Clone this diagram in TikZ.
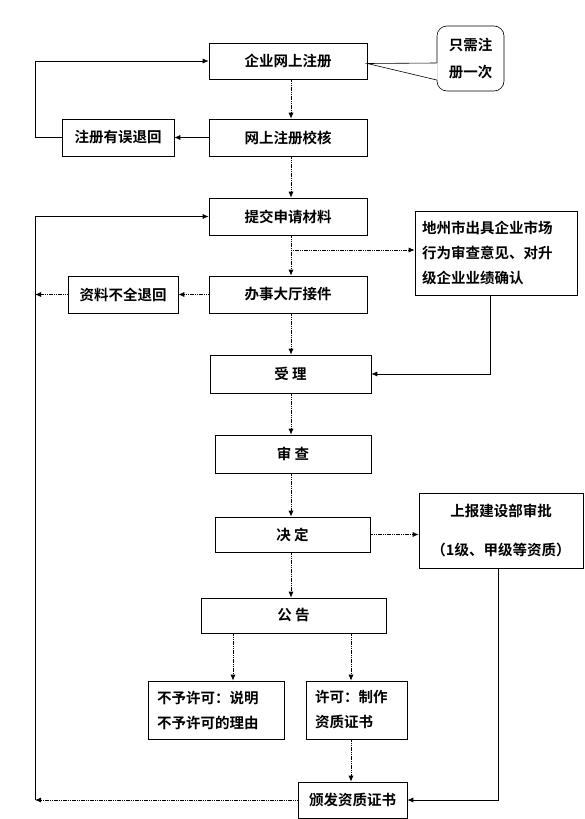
\documentclass[tikz,border=0pt]{standalone}
\usepackage{fontspec}
\newfontfamily\cjk{Noto Sans CJK SC}[BoldFont={Noto Sans CJK SC Bold}]
\usetikzlibrary{arrows.meta}
\begin{document}
\begin{tikzpicture}[x=1pt,y=-1pt,
  box/.style={draw, line width=0.6pt, inner sep=0pt, fill=white,
    font=\cjk\bfseries\fontsize{14.5}{25}\selectfont},
  arr/.style={-{Latex[length=6pt,width=5pt]}, line width=0.7pt},
  dot/.style={dash pattern=on 1.2pt off 0.6pt, line width=0.8pt}]
\useasboundingbox (0,0) rectangle (584,819);
% main column
\node[box, minimum width=158, minimum height=36] (n1) at (288,61) {企业网上注册};
\node[box, minimum width=158, minimum height=37] (n2) at (288,137.5) {网上注册校核};
\node[box, minimum width=112, minimum height=37] (nerr) at (118,137.5) {注册有误退回};
\node[box, minimum width=158, minimum height=37] (n3) at (288,216.5) {提交申请材料};
\node[box, minimum width=162, minimum height=84, text width=148, align=left] (ndz) at (496,253)
  {地州市出具企业市场\\行为审查意见、对升\\级企业业绩确认};
\node[box, minimum width=158, minimum height=37] (n4) at (288,294.5) {办事大厅接件};
\node[box, minimum width=110, minimum height=37] (nzl) at (123,294.5) {资料不全退回};
\node[box, minimum width=161, minimum height=38] (n5) at (290.5,374) {受\ 理};
\node[box, minimum width=156, minimum height=38] (n6) at (293,454) {审\ 查};
\node[box, minimum width=155, minimum height=35] (n7) at (292.5,534.5) {决\ 定};
\node[box, minimum width=164, minimum height=75, align=center,
  font=\cjk\bfseries\fontsize{14.5}{39}\selectfont] (nsb) at (501,530.5)
  {上报建设部审批\\（1级、甲级等资质）};
\node[box, minimum width=185, minimum height=35] (n8) at (293.5,615.5) {公\ 告};
\node[box, minimum width=136, minimum height=58, text width=118, align=left] (nno) at (216,710)
  {不予许可：说明\\不予许可的理由};
\node[box, minimum width=101, minimum height=58, text width=83, align=left] (nyes) at (356.5,710)
  {许可：制作\\资质证书};
\node[box, minimum width=109, minimum height=36] (n9) at (352.5,800) {颁发资质证书};
% callout
\node[box, rounded corners=10pt, minimum width=67, minimum height=65, align=center,
  font=\cjk\bfseries\fontsize{14.5}{27}\selectfont] (co) at (470.5,58.5) {只需注\\册一次};
\coordinate (tip) at (n1.east |- 0,63.5);
\coordinate (ca) at (co.west |- 0,63);
\coordinate (cb) at (co.west |- 0,80);
\fill[white] (tip) -- ([xshift=1pt]ca) -- ([xshift=1pt]cb) -- cycle;
\draw[line width=0.6pt] (ca) -- (tip) -- (cb);
% helper coordinates
\coordinate (cx) at (291,0);
\coordinate (lx) at (35,0);
\coordinate (br) at (291,250);
\coordinate (dzx) at (490,0);
\coordinate (sbx) at (498,0);
\coordinate (ax) at (233,0);
\coordinate (bx) at (351,0);
% vertical flow
\draw[arr,dot] (n1.south -| cx) -- (n2.north -| cx);
\draw[arr,dot] (n2.south -| cx) -- (n3.north -| cx);
\draw[arr,dot] (n3.south -| cx) -- (n4.north -| cx);
\draw[arr,dot] (n4.south -| cx) -- (n5.north -| cx);
\draw[arr,dot] (n5.south -| cx) -- (n6.north -| cx);
\draw[arr,dot] (n6.south -| cx) -- (n7.north -| cx);
\draw[arr,dot] (n7.south -| cx) -- (n8.north -| cx);
\draw[arr,dot] (n8.south -| ax) -- (nno.north -| ax);
\draw[arr,dot] (n8.south -| bx) -- (nyes.north -| bx);
\draw[arr,dot] (nyes.south -| bx) -- (n9.north -| bx);
% side branches
\draw[arr] (n2.west) -- (nerr.east);
\draw[arr] (nerr.west) -- (nerr.west -| lx) |- (n1.west);
\draw[arr,dot] (br) -- (br -| ndz.west);
\draw[arr] (ndz.south -| dzx) |- (n5.east);
\draw[arr,dot] (n4.west) -- (nzl.east);
\draw[arr,dot] (nzl.west) -- (nzl.west -| lx);
\draw[arr,dot] (n7.east) -- (n7.east -| nsb.west);
\draw[arr] (nsb.south -| sbx) |- (n9.east);
\draw[arr,dot] (n9.west) -- (n9.west -| lx);
\draw[arr] (n9.west -| lx) |- (n3.west);
\end{tikzpicture}
\end{document}
